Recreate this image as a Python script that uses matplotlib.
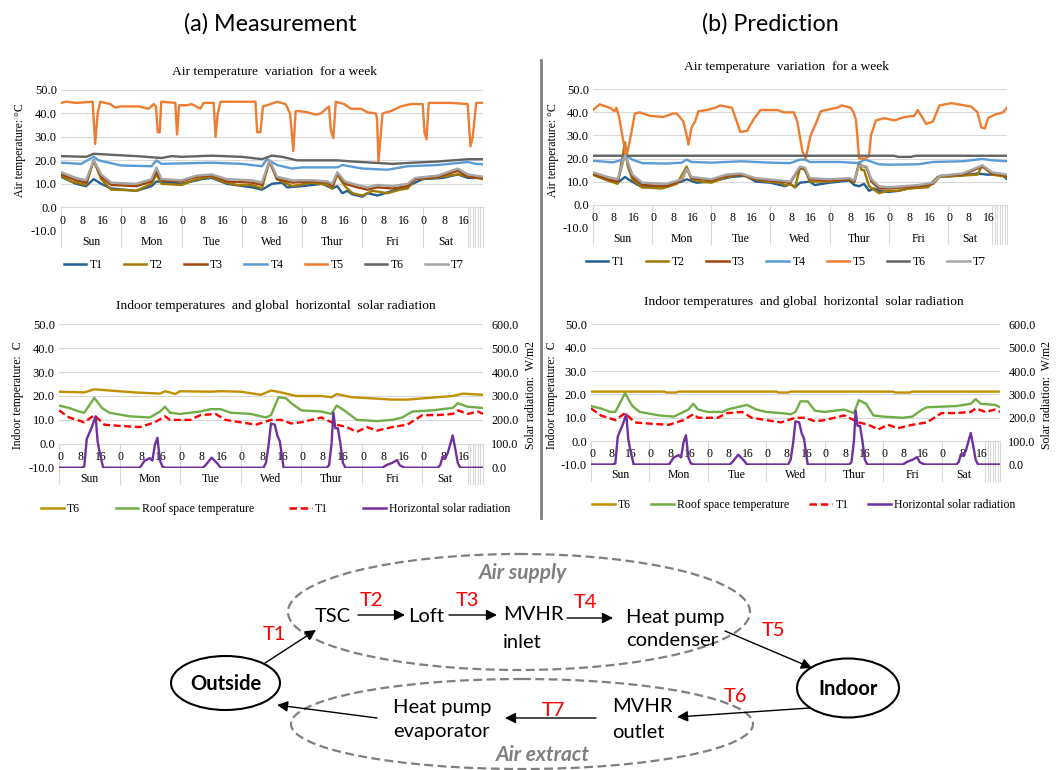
import matplotlib.pyplot as plt
from matplotlib.lines import Line2D
from matplotlib.patches import Ellipse

SERIF = 'Liberation Serif'
SANS = 'Lato'
W, H = 1063, 770

days = ['Sun', 'Mon', 'Tue', 'Wed', 'Thur', 'Fri', 'Sat']
hour_marks = [0, 8, 16]
temp_ticks = [-10, 0, 10, 20, 30, 40, 50]
solar_ticks = [0, 100, 200, 300, 400, 500, 600]

# (hour of week, value), hour 0 = Sunday 00:00
# --- (a) measurement, air temperatures
meas_T1 = [(0, 13), (6, 10), (10, 9), (13, 12), (16, 10), (20, 8), (30, 7), (36, 9), (38, 11),
           (44, 10.5), (48, 10), (56, 12), (60, 12.5), (66, 10), (76, 8.5), (80, 7.5), (84, 10),
           (88, 10.5), (90, 8.5), (96, 9), (104, 10), (108, 8), (110, 9), (112, 6), (114, 7),
           (116, 5.5), (120, 4.5), (122, 6), (126, 5), (132, 7), (138, 9), (144, 12), (152, 12.5),
           (158, 14), (162, 12.5), (168, 12.5)]
meas_T2 = [(0, 13.5), (4, 11), (10, 9.5), (13, 20), (16, 12), (20, 7.5), (26, 7.3), (30, 7),
           (36, 10), (38, 14), (40, 10), (48, 9.5), (54, 12), (60, 13), (64, 11), (70, 9.5),
           (76, 9.5), (80, 8), (83, 20), (86, 12), (92, 9), (100, 10.5), (106, 9.5), (108, 8),
           (110, 14), (113, 9), (116, 6), (120, 5), (124, 7), (130, 6), (135, 7.5), (138, 8),
           (141, 12), (148, 12.5), (158, 14), (168, 12)]
meas_T3 = [(0, 14), (6, 11.5), (10, 10.5), (13, 20), (16, 13), (20, 9.5), (30, 9), (36, 11),
           (38, 15), (40, 11.5), (48, 11), (54, 13), (60, 13.5), (66, 11), (76, 10.5), (80, 9.5),
           (83, 19.5), (86, 12), (92, 10.5), (100, 11), (106, 10.5), (108, 9), (110, 14.5),
           (113, 10), (118, 8.5), (122, 7.5), (126, 8.5), (132, 8), (138, 9), (141, 12),
           (150, 13), (158, 15.5), (162, 13), (168, 12.5)]
meas_T4 = [(0, 19), (8, 18.5), (13, 21.5), (15, 20), (24, 17.8), (36, 17.5), (38, 20), (40, 18.5),
           (60, 19), (72, 18.5), (80, 17.5), (82, 20.5), (86, 18), (92, 16.5), (96, 17), (110, 17),
           (112, 18), (120, 16.5), (130, 16), (138, 17.5), (150, 18), (162, 19.3), (165, 18.5),
           (168, 18.3)]
meas_T5 = [(0, 44.5), (2, 45), (6, 44.5), (12.6, 45), (13.6, 27), (14.6, 40), (15.6, 45),
           (19.6, 44), (21.6, 42.5), (23.6, 43), (31, 43), (34.9, 42), (36.9, 44), (37.8, 43),
           (38.5, 32), (39.3, 32), (39.9, 45), (45.5, 44.5), (46.2, 31), (47, 43.5), (50.2, 43.5),
           (52, 44), (55.5, 42), (56.8, 44.5), (60.8, 44.5), (61.5, 30), (62.4, 40), (63.5, 45),
           (77.4, 45), (78.1, 32), (79.4, 32), (80.4, 43), (82, 43.5), (86.1, 45), (89.4, 44),
           (91.2, 40), (92.5, 24), (93.4, 41), (94.7, 41), (98, 40.5), (101.4, 39.5), (103.4, 40),
           (106.7, 43), (107.4, 33), (108.4, 29.5), (109.4, 45), (112.7, 44), (115.4, 42),
           (119.4, 42), (122, 40.5), (125.3, 40), (125.8, 38), (126.4, 19.5), (128, 40),
           (131.3, 41), (135.3, 43), (139.3, 44), (144, 44), (144.7, 32), (145.5, 29),
           (146.4, 44.5), (155.3, 44.5), (161.9, 44), (163, 26), (163.9, 30), (165.3, 44.5),
           (168, 44.5)]
meas_T6 = [(0, 21.8), (10, 21.5), (13, 22.8), (18, 22.5), (30, 21.8), (40, 21), (44, 21.8),
           (48, 21.5), (60, 22), (72, 21.5), (80, 20.5), (84, 22), (88, 21.5), (94, 20), (110, 20),
           (116, 19.5), (124, 19), (132, 18.5), (140, 19), (150, 19.5), (162, 20.5), (168, 20.5)]
meas_T7 = [(0, 15), (6, 12.5), (10, 11.5), (13, 20), (16, 14), (20, 10.5), (30, 10), (36, 12),
           (38, 17), (40, 12), (48, 11.5), (54, 13.5), (60, 14), (66, 12), (76, 11.5), (80, 10.5),
           (83, 20), (86, 13), (92, 11.5), (100, 11.5), (106, 11), (108, 10), (110, 15), (113, 11),
           (118, 9.5), (122, 8.5), (126, 9.5), (132, 9), (138, 10), (141, 12.5), (150, 13.5),
           (158, 16.5), (162, 14), (168, 13)]

# --- (b) prediction, air temperatures
pred_T1 = [(0, 13), (6, 10.5), (10, 9.5), (13, 12), (15, 10.5), (20, 7.5), (28, 8), (36, 10),
           (38, 11), (42, 9.5), (48, 10), (56, 12), (62, 12.5), (66, 10), (72, 9.5), (78, 8),
           (80, 9), (82, 7.5), (84, 9.5), (88, 10), (90, 8.5), (96, 9.5), (104, 10.5), (106, 8.5),
           (108, 8), (110, 9), (112, 6), (114, 7), (116, 6), (120, 5.5), (124, 6), (128, 7),
           (136, 8), (140, 12), (148, 12.5), (156, 13.5), (160, 13), (166, 13), (168, 11)]
pred_T2 = [(0, 13), (6, 10.5), (10, 9), (13, 27), (14, 17), (16, 11), (20, 7.5), (28, 7), (34, 9),
           (38, 16.5), (40, 11), (44, 10), (48, 9.5), (54, 12), (60, 13), (64, 11.5), (70, 10),
           (76, 9.5), (78, 8.5), (80, 9), (82, 7.5), (84, 16), (86, 15), (88, 10), (96, 10),
           (104, 11), (106, 9.5), (108, 18.5), (109, 15), (110, 15), (112, 8), (116, 5), (120, 6),
           (124, 6), (128, 7), (136, 7.5), (140, 12), (148, 12.5), (156, 13), (158, 17), (162, 13),
           (168, 12)]
pred_T3 = [(0, 13.5), (6, 11), (10, 10), (13, 22), (16, 12), (20, 8.5), (30, 8), (36, 10.5),
           (38, 15.5), (40, 11.5), (48, 10.5), (54, 12.5), (60, 13), (66, 11), (76, 10), (80, 9.5),
           (84, 16), (86, 15.5), (88, 11), (96, 10.5), (104, 11), (106, 10), (108, 17.5),
           (111, 16), (113, 10), (116, 7), (120, 7), (126, 7.5), (132, 8), (138, 9), (141, 12.5),
           (150, 13), (158, 16.5), (162, 13.5), (168, 12.5)]
pred_T4 = [(0, 19), (6, 18.5), (8, 18.3), (12, 19.5), (14, 21), (16, 19.5), (20, 18), (30, 17.8),
           (36, 18.2), (38, 19.5), (40, 18.5), (48, 18.2), (60, 18.8), (72, 18.2), (80, 18),
           (84, 19.5), (86, 19.5), (88, 18.5), (100, 18.5), (108, 18), (110, 19.5), (112, 19),
           (116, 17.5), (120, 17.3), (132, 17.5), (138, 18.5), (150, 18.8), (158, 19.8),
           (162, 19.2), (168, 18.8)]
pred_T5 = [(0, 41), (2.7, 43.5), (6.8, 42), (8.8, 40.5), (9.5, 42), (10.6, 38), (12.2, 28),
           (13.6, 21), (15, 28), (17, 39.5), (19, 40), (23, 38.5), (28.5, 38), (32.6, 39.5),
           (34, 39.5), (36.7, 36), (38, 30), (38.7, 26), (40, 33.5), (41.4, 36), (42.8, 40.5),
           (46.2, 41), (49.6, 42), (51.6, 43), (56.4, 42), (59.8, 31.5), (62.5, 32), (65.2, 37),
           (68, 41), (75, 41), (77.4, 40), (81.5, 40), (82.9, 36), (85, 23), (86.3, 20),
           (88.3, 30), (90.4, 35), (92.4, 40.5), (99, 42), (101, 43), (104.6, 42), (105.7, 40),
           (106.7, 37), (108, 20), (110.7, 20), (112, 21), (112.8, 30), (114.8, 36.5),
           (118.2, 37.5), (122.3, 36.5), (126.4, 38), (130.4, 38.5), (131.8, 41), (135.2, 35),
           (137.9, 36), (140.6, 43), (145.4, 44), (150.8, 43), (153.5, 42.5), (156, 40),
           (157.6, 33.5), (159, 33), (160.3, 37.5), (163, 39), (166.4, 40), (168, 42)]
pred_T6 = [(0, 21.2), (122, 21.2), (124, 20.7), (129, 20.7), (131, 21.2), (168, 21.2)]
pred_T7 = [(0, 14), (6, 12), (10, 11), (13, 21.5), (16, 13), (20, 9.5), (30, 9), (36, 11),
           (38, 15.5), (40, 12), (48, 11), (54, 13), (60, 13.5), (66, 11.5), (76, 10.5), (80, 10),
           (84, 16.5), (86, 16), (88, 11.5), (96, 11), (104, 11.5), (106, 10.5), (108, 17),
           (111, 16.5), (113, 11), (116, 8), (120, 7.5), (126, 8), (132, 8.5), (138, 9.5),
           (141, 12.5), (150, 13.5), (158, 17), (162, 14), (168, 13)]

# --- indoor temperatures and solar radiation
meas_T6_in = [(0, 21.8), (10, 21.5), (14, 22.8), (20, 22.3), (30, 21.5), (40, 21), (42, 22),
              (44, 21.5), (46, 20.8), (48, 22), (60, 21.8), (64, 22), (72, 21.8), (80, 20.5),
              (84, 22.3), (88, 21.5), (94, 20), (104, 20), (108, 19.5), (110, 20.8), (116, 19.5),
              (124, 19), (132, 18.5), (138, 18.5), (150, 19.5), (156, 20), (160, 21), (168, 20.5)]
meas_roof = [(0, 16), (4, 15), (8, 13.5), (10, 13), (14, 19.2), (17, 15), (20, 13), (28, 11.5),
             (36, 11), (40, 13.5), (42, 15.5), (44, 13), (48, 12.5), (56, 13.5), (60, 14.5),
             (64, 14.5), (68, 13), (76, 12.5), (82, 11), (84, 12), (87, 19.5), (90, 19), (92, 17),
             (96, 14), (104, 13.5), (108, 12.5), (110, 16), (113, 14), (118, 10), (126, 9.5),
             (132, 10), (136, 11), (140, 13.5), (148, 14), (156, 15), (158, 17), (162, 15.5),
             (168, 15)]
pred_T6_in = [(0, 21.2), (30, 21.2), (31, 20.8), (35, 20.8), (36, 21.2), (76, 21.2), (77, 20.8),
              (81, 20.8), (82, 21.2), (124, 21.2), (125, 20.8), (131, 20.8), (132, 21.2), (168, 21.2)]
pred_roof = [(0, 15), (4, 14), (8, 12.5), (10, 12.5), (14, 20.5), (17, 15), (20, 12.5), (28, 11),
             (34, 10.5), (40, 13.5), (42, 16), (44, 13.5), (48, 12.5), (54, 12.5), (56, 13.5),
             (60, 14.5), (64, 15.5), (68, 13.5), (72, 12.5), (78, 12), (82, 11.5), (84, 12.5),
             (86, 17), (89, 17), (92, 13), (96, 12.5), (104, 13.5), (108, 12), (110, 17.5),
             (113, 16), (116, 11), (120, 10.5), (128, 10), (132, 10.5), (136, 13.5), (138, 14.5),
             (150, 15), (156, 16), (158, 18), (160, 16), (166, 15.5), (168, 14.5)]
outdoor_T1 = [(0, 14), (4, 11), (10, 9), (14, 12), (18, 8), (24, 7.5), (32, 7), (38, 9), (42, 11.5),
              (44, 10), (52, 10), (56, 12), (62, 12.5), (66, 10), (72, 9), (78, 8), (84, 10),
              (88, 10), (92, 8.5), (96, 9), (104, 11), (110, 8), (114, 7), (118, 5), (122, 7),
              (126, 5.5), (132, 7), (138, 8), (144, 12), (150, 12), (156, 12.5), (158, 14),
              (162, 12.5), (166, 13.5), (168, 12.5)]
solar = [(0, 0), (9, 0), (10, 5), (11, 120), (13, 170), (14.5, 215), (15.3, 110), (16, 70),
         (17.5, 0), (32, 0), (34, 30), (36, 40), (37, 30), (38, 95), (39, 125), (40, 30), (41, 5),
         (42, 0), (57, 0), (58, 10), (60.5, 42), (63, 15), (64, 0), (81, 0), (82, 20), (83, 90),
         (84, 185), (85.5, 180), (86.5, 135), (87.5, 110), (89, 0), (106, 0), (107, 10),
         (108, 100), (108.7, 230), (109.5, 165), (110.5, 165), (111.5, 100), (112.5, 20),
         (113.5, 0), (128, 0), (130, 12), (132, 20), (134, 32), (135, 10), (137, 0), (150, 0),
         (151, 10), (152, 45), (153, 40), (154, 60), (156, 135), (157, 80), (158, 20), (159, 0),
         (168, 0)]

air_colors = {'T1': '#255E91', 'T2': '#9E7A00', 'T3': '#9E480E', 'T4': '#5B9BD5',
              'T5': '#ED7D31', 'T6': '#636363', 'T7': '#A5A5A5'}
GRID = '#D9D9D9'

fig = plt.figure(figsize=(W / 100, H / 100), dpi=100)


def px_axes(x0, x1, ytop, ybot):
    return fig.add_axes([x0 / W, 1 - ybot / H, (x1 - x0) / W, (ybot - ytop) / H])


def xy(pts):
    return [p[0] for p in pts], [p[1] for p in pts]


def base_chart(ax, y_hour=-6, y_day=-14.7, y_bot=-17):
    ax.set_xlim(0, 168)
    ax.set_ylim(-10, 50)
    for s in ax.spines.values():
        s.set_visible(False)
    ax.set_xticks([])
    ax.set_yticks(temp_ticks)
    ax.set_yticklabels([f'{v:.1f}' for v in temp_ticks], family=SERIF, fontsize=9)
    ax.tick_params(axis='y', length=0, pad=3)
    for v in temp_ticks[2:]:
        ax.axhline(v, color=GRID, lw=0.8, zorder=0)
    kw = dict(color=GRID, lw=0.8, clip_on=False, zorder=0)
    ax.plot([0, 168], [0, 0], **kw)
    for b in [0, 24, 48, 72, 96, 120, 144, 162, 163, 164, 165, 166, 167, 168]:
        ax.plot([b, b], [0, y_bot], **kw)
    for i, d in enumerate(days):
        start = 24 * i
        end = 162 if d == 'Sat' else start + 24
        ax.text((start + end) / 2, y_day, d, ha='center', va='center',
                family=SERIF, fontsize=8.5, clip_on=False)
        for h in hour_marks:
            ax.text(start + h + 0.5, y_hour, str(h), ha='center', va='center',
                    family=SERIF, fontsize=8.5, clip_on=False)


def air_chart(ax, series, cx, legend_cx, title_y, legend_y, ylab_x):
    base_chart(ax)
    for name in ['T1', 'T2', 'T3', 'T4', 'T5', 'T6', 'T7']:
        x, y = xy(series[name])
        ax.plot(x, y, color=air_colors[name], lw=1.7, zorder=3)
    fig.text(cx / W, 1 - title_y / H, 'Air temperature  variation  for a week',
             ha='center', va='center', family=SERIF, fontsize=9.7)
    fig.text(ylab_x / W, 1 - 150 / H, 'Air temperature: \u00b0C', rotation=90,
             ha='center', va='center', family=SERIF, fontsize=8.5)
    handles = [Line2D([], [], color=air_colors[n], lw=1.8) for n in air_colors]
    fig.legend(handles, list(air_colors), loc='center',
               bbox_to_anchor=(legend_cx / W, 1 - legend_y / H),
               ncol=7, frameon=False, prop=dict(family=SERIF, size=8.5), handlelength=1.9,
               handletextpad=0.3, columnspacing=1.8)


def indoor_chart(ax, t6, roof, cx, title_y, legend_y, ylab_x, ylab2_x, colspace):
    base_chart(ax, y_hour=-5.7)
    x, y = xy(t6)
    ax.plot(x, y, color='#BF9000', lw=1.7, zorder=3)
    x, y = xy(roof)
    ax.plot(x, y, color='#70AD47', lw=1.7, zorder=3)
    x, y = xy(outdoor_T1)
    ax.plot(x, y, color='#FF0000', lw=1.7, ls=(0, (3, 1.5)), zorder=3)
    ax2 = ax.twinx()
    ax2.set_ylim(0, 600)
    for s in ax2.spines.values():
        s.set_visible(False)
    ax2.set_yticks(solar_ticks)
    ax2.set_yticklabels([f'{v:.1f}' for v in solar_ticks], family=SERIF, fontsize=8.7)
    ax2.tick_params(axis='y', length=0, pad=6)
    x, y = xy(solar)
    ax2.plot(x, y, color='#7030A0', lw=1.7, zorder=3)
    fig.text(cx / W, 1 - title_y / H, 'Indoor temperatures  and global  horizontal  solar radiation',
             ha='center', va='center', family=SERIF, fontsize=9.7)
    fig.text(ylab_x / W, 1 - 395 / H, 'Indoor temperature:  C', rotation=90,
             ha='center', va='center', family=SERIF, fontsize=8.5)
    fig.text(ylab2_x / W, 1 - 395 / H, 'Solar radiation:  W/m2', rotation=90,
             ha='center', va='center', family=SERIF, fontsize=8.5)
    handles = [Line2D([], [], color='#BF9000', lw=1.8),
               Line2D([], [], color='#70AD47', lw=1.8),
               Line2D([], [], color='#FF0000', lw=1.8, ls=(0, (3, 1.5))),
               Line2D([], [], color='#7030A0', lw=1.8)]
    labels = ['T6', 'Roof space temperature', 'T1', 'Horizontal solar radiation']
    fig.legend(handles, labels, loc='center', bbox_to_anchor=(cx / W, 1 - legend_y / H),
               ncol=4, frameon=False, prop=dict(family=SERIF, size=8.5), handlelength=1.9,
               handletextpad=0.3, columnspacing=colspace)


meas = dict(T1=meas_T1, T2=meas_T2, T3=meas_T3, T4=meas_T4, T5=meas_T5, T6=meas_T6, T7=meas_T7)
pred = dict(T1=pred_T1, T2=pred_T2, T3=pred_T3, T4=pred_T4, T5=pred_T5, T6=pred_T6, T7=pred_T7)

air_chart(px_axes(61, 483, 90, 230.7), meas, 275, 264, 72, 265, 20)
air_chart(px_axes(593, 1007, 89.3, 227.7), pred, 786, 786, 67, 262, 553)
indoor_chart(px_axes(59, 483, 324.3, 467.7), meas_T6_in, meas_roof, 276, 306, 509, 18, 531, 3.0)
indoor_chart(px_axes(591, 1000, 324.3, 464.5), pred_T6_in, pred_roof, 804, 302, 505, 552, 1047, 1.7)

# --- headers, divider and flow diagram (pixel coordinates)
d = fig.add_axes([0, 0, 1, 1])
d.set_xlim(0, W)
d.set_ylim(H, 0)
d.axis('off')

d.text(270, 24, '(a) Measurement', ha='center', va='center', family=SANS, fontsize=16.8)
d.text(770, 24, '(b) Prediction', ha='center', va='center', family=SANS, fontsize=16.8)
d.plot([541, 541], [60, 518], color='#7F7F7F', lw=2)

dash = dict(fill=False, ec='#7F7F7F', lw=1.6, ls=(0, (4, 2)))
d.add_patch(Ellipse((519, 612), 462, 116, **dash))
d.add_patch(Ellipse((522, 724), 462, 90, **dash))
d.add_patch(Ellipse((225.5, 683), 109, 54, fill=False, ec='k', lw=1.5))
d.add_patch(Ellipse((848, 688), 102, 59, fill=False, ec='k', lw=1.5))

txt = dict(family=SANS, fontsize=14.5, va='center')
d.text(225.5, 684, 'Outside', ha='center', fontweight='bold', **txt)
d.text(848, 689, 'Indoor', ha='center', fontweight='bold', **txt)
d.text(333, 616, 'TSC', ha='center', **txt)
d.text(426, 616, 'Loft', ha='center', **txt)
d.text(503, 615, 'MVHR', ha='left', **txt)
d.text(503, 642, 'inlet', ha='left', **txt)
d.text(626, 617, 'Heat pump', ha='left', **txt)
d.text(626, 641, 'condenser', ha='left', **txt)
d.text(612, 707, 'MVHR', ha='left', **txt)
d.text(612, 732, 'outlet', ha='left', **txt)
d.text(393, 707, 'Heat pump', ha='left', **txt)
d.text(393, 732, 'evaporator', ha='left', **txt)
d.text(523, 573, 'Air supply', ha='center', color='#7F7F7F', fontweight='bold',
       style='italic', family=SANS, fontsize=15, va='center')
d.text(543, 755, 'Air extract', ha='center', color='#7F7F7F', fontweight='bold',
       style='italic', family=SANS, fontsize=15, va='center')

for lab, (lx, ly) in {'T1': (274, 634), 'T2': (371, 600), 'T3': (467, 600), 'T4': (585, 602),
                      'T5': (773, 631), 'T6': (736, 697), 'T7': (553, 710)}.items():
    d.text(lx, ly, lab, ha='center', va='center', color='red', family=SANS, fontsize=14.5)

arrows = [((358, 615), (405, 615)), ((449, 615), (497, 615)), ((567, 618), (613, 618)),
          ((725, 631), (812, 668)), ((265, 663), (316, 630)), ((810, 708), (677, 717)),
          ((596, 718), (505, 718)), ((377, 718), (277, 705))]
for a, b in arrows:
    d.annotate('', xy=b, xytext=a,
               arrowprops=dict(arrowstyle='-|>', color='k', lw=1, mutation_scale=16,
                               shrinkA=0, shrinkB=0))

fig.savefig('out.png', dpi=100)
